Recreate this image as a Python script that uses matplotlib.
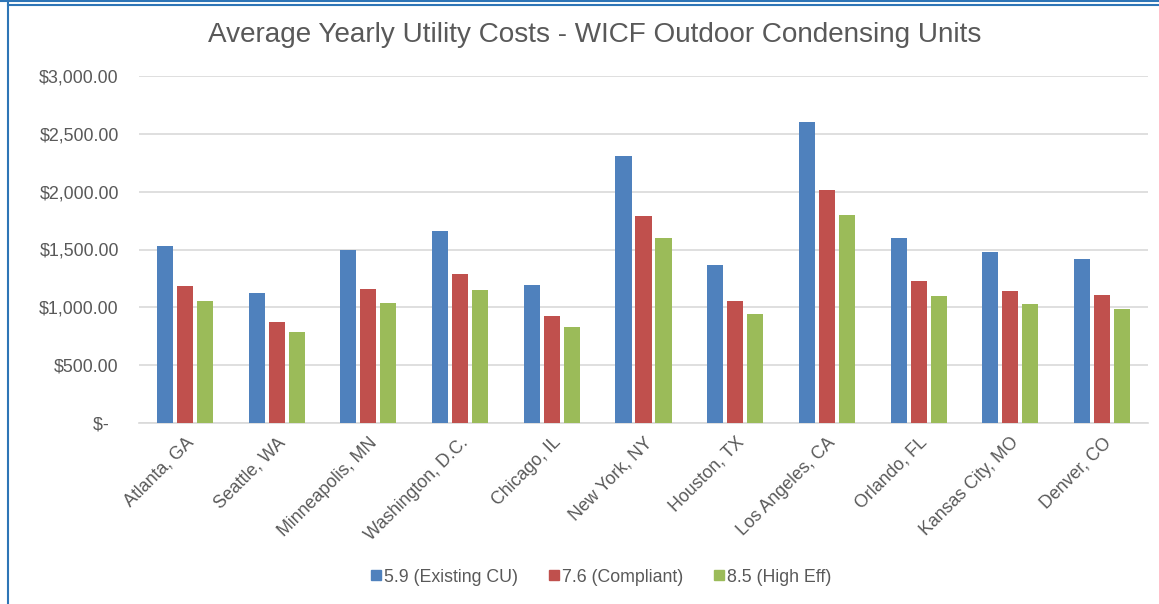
import matplotlib
matplotlib.use("Agg")
import matplotlib.pyplot as plt
import numpy as np
from matplotlib.lines import Line2D

categories = ["Atlanta, GA", "Seattle, WA", "Minneapolis, MN", "Washington, D.C.",
              "Chicago, IL", "New York, NY", "Houston, TX", "Los Angeles, CA",
              "Orlando, FL", "Kansas City, MO", "Denver, CO"]
existing = [1533, 1127, 1496, 1663, 1196, 2306, 1363, 2605, 1597, 1476, 1418]
compliant = [1187, 873, 1158, 1288, 928, 1790, 1052, 2017, 1230, 1144, 1104]
high_eff = [1057, 784, 1037, 1150, 830, 1597, 940, 1801, 1095, 1026, 986]
series_names = ["5.9 (Existing CU)", "7.6 (Compliant)", "8.5 (High Eff)"]
colors = ["#4f81bd", "#c0504d", "#9bbb59"]
yticks = [0, 500, 1000, 1500, 2000, 2500, 3000]
title = "Average Yearly Utility Costs - WICF Outdoor Condensing Units"

plt.rcParams['font.family'] = ['Liberation Sans', 'DejaVu Sans']
W, H = 1159, 604
fig = plt.figure(figsize=(W/100, H/100), dpi=100)
fig.patch.set_facecolor("white")

def px(x0, y0, x1, y1):
    return [x0/W, 1 - y1/H, (x1-x0)/W, (y1-y0)/H]

ax = fig.add_axes(px(139, 76, 1148, 423))
x = np.arange(len(categories))
bw = 0.175
off = 0.218
for i, (vals, c, name) in enumerate(zip([existing, compliant, high_eff], colors, series_names)):
    ax.bar(x + (i-1)*off, vals, width=bw, color=c, label=name, zorder=3)

ax.set_xlim(-0.5, len(categories)-0.5)
ax.set_ylim(0, 3000)
ax.set_yticks(yticks)
def fmt(v):
    return "$-  " if v == 0 else "${:,.2f}".format(v)
ax.set_yticklabels([fmt(v) for v in yticks], fontsize=12.9, color="#595959")
ax.yaxis.grid(True, color="#d9d9d9", linewidth=1.2, zorder=0)
ax.set_xticks(x)
ax.set_xticklabels(categories, rotation=45, ha="right", rotation_mode="anchor",
                   fontsize=12.8, color="#595959")
ax.tick_params(axis="both", length=0)
ax.tick_params(axis="y", pad=14.5)
ax.tick_params(axis="x", pad=8)
for s in ["top", "right", "left"]:
    ax.spines[s].set_visible(False)
ax.spines["bottom"].set_color("#d9d9d9")
ax.spines["bottom"].set_linewidth(1.2)

fig.text(595/W, 1 - 35/H, title, ha="center", va="center", fontsize=20.1, color="#595959")

handles = [Line2D([], [], marker="s", linestyle="none", markersize=7, color=c) for c in colors]
fig.legend(handles, series_names, loc="center", bbox_to_anchor=(600/W, 1 - 577/H),
           ncol=3, frameon=False, fontsize=12.8, labelcolor="#595959",
           handletextpad=0.05, columnspacing=1.6, handlelength=0.8)

# screenshot border
fig.add_artist(Line2D([8/W, 8/W], [0, 1 - 3/H], transform=fig.transFigure, color="#2e75b6", linewidth=1.5))
fig.add_artist(Line2D([0, 1], [1 - 1/H, 1 - 1/H], transform=fig.transFigure, color="#2e75b6", linewidth=1.5))
fig.add_artist(Line2D([8/W, 1], [1 - 4.5/H, 1 - 4.5/H], transform=fig.transFigure, color="#2e75b6", linewidth=1.5))

fig.savefig("out.png", dpi=100, facecolor="white")
